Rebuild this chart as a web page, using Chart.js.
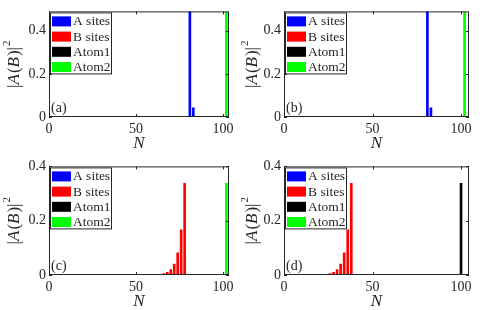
<!DOCTYPE html>
<html>
<head>
<meta charset="utf-8">
<script src="https://cdn.jsdelivr.net/npm/chart.js@4"></script>
<style>
  body { margin: 0; background: #fff; }
  .wrap { position: relative; width: 480px; height: 310px; }
  canvas { position: absolute; }
</style>
</head>
<body>
<div class="wrap">
  <canvas id="pa" width="240" height="155" style="left:0;top:0"></canvas>
  <canvas id="pb" width="240" height="155" style="left:240px;top:0"></canvas>
  <canvas id="pc" width="240" height="155" style="left:0;top:155px"></canvas>
  <canvas id="pd" width="240" height="155" style="left:240px;top:155px"></canvas>
</div>
<script>
const seriesNames = ["A sites", "B sites", "Atom1", "Atom2"];
const seriesColors = ["#0000ff", "#ff0000", "#000000", "#00ff00"];
const xTicks = [0, 50, 100];
const xTickLabels = ["0", "50", "100"];
const yTicks = [0, 0.2, 0.4];
const yTickLabels = ["0", "0.2", "0.4"];
const panelLabels = ["(a)", "(b)", "(c)", "(d)"];

// (a)
const aSitesN_a = [81, 83, 85];
const aSitesV_a = [0.5, 0.042, 0.003];
const atom2N_a = [102];
const atom2V_a = [0.5];

// (b)
const aSitesN_b = [81, 83, 85];
const aSitesV_b = [0.5, 0.042, 0.003];
const atom2N_b = [102];
const atom2V_b = [0.5];

// (c)
const bSitesN_c = [66, 68, 70, 72, 74, 76, 78];
const bSitesV_c = [0.005, 0.010, 0.020, 0.040, 0.082, 0.166, 0.338];
const atom2N_c = [102];
const atom2V_c = [0.338];

// (d)
const bSitesN_d = [26, 28, 30, 32, 34, 36, 38];
const bSitesV_d = [0.005, 0.010, 0.020, 0.040, 0.082, 0.166, 0.338];
const atom1N_d = [100];
const atom1V_d = [0.338];

const axisColor = "#262626";
const serif = "'Liberation Serif', 'DejaVu Serif', serif";

const panels = [
    { id: "pa", label: panelLabels[0], yMax: 0.49, xMax: 103.5, left: 49, top: 6, right: 229, bottom: 117,
      series: [[aSitesN_a, aSitesV_a], [[], []], [[], []], [atom2N_a, atom2V_a]] },
    { id: "pb", label: panelLabels[1], yMax: 0.49, xMax: 104.5, left: 44, top: 6, right: 229, bottom: 117,
      series: [[aSitesN_b, aSitesV_b], [[], []], [[], []], [atom2N_b, atom2V_b]] },
    { id: "pc", label: panelLabels[2], yMax: 0.4, xMax: 103.5, left: 49, top: 9, right: 229, bottom: 120,
      series: [[[], []], [bSitesN_c, bSitesV_c], [[], []], [atom2N_c, atom2V_c]] },
    { id: "pd", label: panelLabels[3], yMax: 0.4, xMax: 104.5, left: 44, top: 9, right: 229, bottom: 120,
      series: [[[], []], [bSitesN_d, bSitesV_d], [atom1N_d, atom1V_d], [[], []]] }
];

function drawYLabel(ctx, cx, cy) {
    const pieces = [["|", false], ["A", true], ["(", false], ["B", true], [")|", false]];
    ctx.save();
    let total = 0;
    pieces.forEach(p => {
        ctx.font = (p[1] ? "italic " : "") + "17px " + serif;
        total += ctx.measureText(p[0]).width + (p[1] ? 1 : 0);
    });
    ctx.font = "11px " + serif;
    total += ctx.measureText("2").width + 1;
    ctx.translate(cx, cy);
    ctx.rotate(-Math.PI / 2);
    ctx.fillStyle = axisColor;
    ctx.textBaseline = "alphabetic";
    ctx.textAlign = "left";
    let x = -total / 2;
    pieces.forEach(p => {
        ctx.font = (p[1] ? "italic " : "") + "17px " + serif;
        ctx.fillText(p[0], x, 5);
        x += ctx.measureText(p[0]).width + (p[1] ? 1 : 0);
    });
    ctx.font = "11px " + serif;
    ctx.fillText("2", x + 1, -4);
    ctx.restore();
}

const framePlugin = {
    id: "frame",
    afterDatasetsDraw(chart) {
        const ctx = chart.ctx;
        const a = chart.chartArea;
        const xs = chart.scales.x, ys = chart.scales.y;
        ctx.save();
        ctx.strokeStyle = axisColor;
        ctx.lineWidth = 1;
        ctx.strokeRect(a.left + 0.5, a.top + 0.5, a.right - a.left - 1, a.bottom - a.top - 1);
        ctx.beginPath();
        xTicks.forEach(v => {
            const px = Math.round(xs.getPixelForValue(v)) + 0.5;
            ctx.moveTo(px, a.bottom); ctx.lineTo(px, a.bottom - 3);
            ctx.moveTo(px, a.top); ctx.lineTo(px, a.top + 3);
        });
        yTicks.forEach(v => {
            const py = Math.round(ys.getPixelForValue(v)) + 0.5;
            ctx.moveTo(a.left, py); ctx.lineTo(a.left + 3, py);
            ctx.moveTo(a.right, py); ctx.lineTo(a.right - 3, py);
        });
        ctx.stroke();

        // legend box
        const lx = a.left + 1, ly = a.top + 1;
        ctx.fillStyle = "#fff";
        ctx.fillRect(lx, ly, 61, 61);
        ctx.strokeRect(lx + 0.5, ly + 0.5, 61, 61);
        ctx.font = "13.5px " + serif;
        ctx.textBaseline = "middle";
        ctx.textAlign = "left";
        chart.data.datasets.forEach((ds, i) => {
            const ry = ly + 4 + i * 15.2;
            ctx.fillStyle = ds.backgroundColor;
            ctx.fillRect(lx + 2, ry, 19, 10);
            ctx.fillStyle = axisColor;
            ctx.fillText(ds.label, lx + 23, ry + 5.5);
        });

        // panel label
        ctx.font = "14px " + serif;
        ctx.textBaseline = "alphabetic";
        ctx.fillStyle = axisColor;
        ctx.fillText(chart.options.panelLabel, a.left + 2, a.bottom - 5);

        // axis titles
        ctx.font = "italic 17px " + serif;
        ctx.textAlign = "center";
        ctx.textBaseline = "middle";
        ctx.fillText("N", (a.left + a.right) / 2, a.bottom + 27);
        drawYLabel(ctx, Math.max(a.left - 35, 12), (a.top + a.bottom) / 2);
        ctx.restore();
    }
};

panels.forEach(p => {
    const ctx = document.getElementById(p.id).getContext("2d");
    new Chart(ctx, {
        type: "bar",
        data: {
            datasets: seriesNames.map((name, i) => ({
                label: name,
                data: p.series[i][0].map((n, k) => ({ x: n, y: p.series[i][1][k] })),
                backgroundColor: seriesColors[i],
                borderWidth: 0,
                barThickness: 2,
                grouped: false
            }))
        },
        options: {
            panelLabel: p.label,
            responsive: false,
            animation: false,
            layout: { padding: { top: p.top, right: 240 - p.right, left: 0, bottom: 0 } },
            plugins: { legend: { display: false }, tooltip: { enabled: false } },
            scales: {
                x: {
                    type: "linear", min: 0, max: p.xMax, offset: false,
                    grid: { display: false, drawTicks: false },
                    border: { display: false },
                    ticks: {
                        padding: 4, autoSkip: false, maxRotation: 0, color: axisColor,
                        font: { family: serif, size: 14 },
                        callback: (v, i) => xTickLabels[i]
                    },
                    afterBuildTicks: s => { s.ticks = xTicks.map(v => ({ value: v })); },
                    afterFit: s => { s.height = 155 - p.bottom; }
                },
                y: {
                    min: 0, max: p.yMax,
                    grid: { display: false, drawTicks: false },
                    border: { display: false },
                    ticks: {
                        padding: 3, color: axisColor,
                        font: { family: serif, size: 14 },
                        callback: (v, i) => yTickLabels[i]
                    },
                    afterBuildTicks: s => { s.ticks = yTicks.map(v => ({ value: v })); },
                    afterFit: s => { s.width = p.left; }
                }
            }
        },
        plugins: [framePlugin]
    });
});
</script>
</body>
</html>
